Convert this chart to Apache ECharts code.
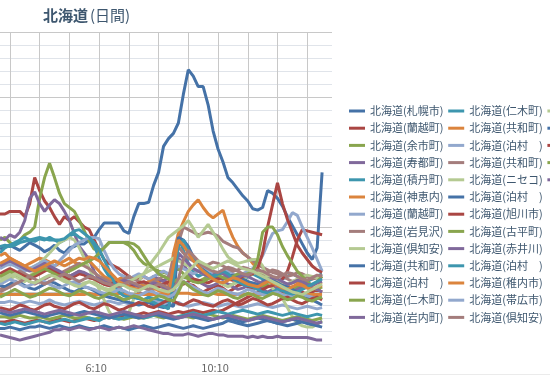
<!DOCTYPE html>
<html><head><meta charset="utf-8">
<script src="https://cdn.jsdelivr.net/npm/echarts@6/dist/echarts.min.js"></script>
<style>html,body{margin:0;padding:0;background:#fff}#c{width:550px;height:381px}</style>
</head><body><div id="c"></div>
<script>
const categories = ['2:50','3:00','3:10','3:20','3:30','3:40','3:50','4:00','4:10','4:20','4:30','4:40','4:50','5:00','5:10','5:20','5:30','5:40','5:50','6:00','6:10','6:20','6:30','6:40','6:50','7:00','7:10','7:20','7:30','7:40','7:50','8:00','8:10','8:20','8:30','8:40','8:50','9:00','9:10','9:20','9:30','9:40','9:50','10:00','10:10','10:20','10:30','10:40','10:50','11:00','11:10','11:20','11:30','11:40','11:50','12:00','12:10','12:20','12:30','12:40','12:50','13:00','13:10','13:20','13:30','13:40','13:50','14:00'];
const tickLabels = ['6:10','10:10'];
const names = ['北海道(札幌市)','北海道(蘭越町)','北海道(余市町)','北海道(寿都町)','北海道(積丹町)','北海道(神恵内)','北海道(蘭越町)','北海道(岩見沢)','北海道(倶知安)','北海道(共和町)','北海道(泊村　)','北海道(仁木町)','北海道(岩内町)',
'北海道(仁木町)','北海道(共和町)','北海道(泊村　)','北海道(共和町)','北海道(ニセコ)','北海道(泊村　)','北海道(旭川市)','北海道(古平町)','北海道(赤井川)','北海道(泊村　)','北海道(稚内市)','北海道(帯広市)','北海道(倶知安)',
'北海道(小樽市)','北海道(函館市)','北海道(釧路市)','北海道(室蘭市)','北海道(苫小牧)'];
const s01=[83,85,86,84,82,85,88,86,84,81,83,86,82,80,84,85,87,87,90,92,98,103,103,103,103,97,95,108,118,118,119,132,142,162,168,172,180,202,221,216,208,208,194,174,160,150,138,134,129,124,120,114,113,115,128,126,122,116,108,101,94,87,80,75,84,142];
const s02=[110,110,112,112,112,108,118,138,128,120,115,108,102,108,105,108,104,100,98,90,82,75,72,70,68,65,62,60,60,62,60,58,58,59,56,55,57,58,56,55,52,50,52,54,55,53,50,52,55,56,54,52,55,58,56,54,52,50,52,54,52,50,48,50,52,50];
const s03=[90,92,88,86,90,94,96,100,122,138,149,138,126,118,115,112,105,97,89,83,82,84,88,88,88,88,86,82,76,72,70,68,66,65,64,66,68,64,62,60,58,60,62,60,58,56,55,56,58,60,58,56,55,54,56,58,56,55,54,52,54,56,55,53,52,54];
const s04=[92,90,94,92,96,105,122,127,118,112,117,121,118,112,105,95,85,80,75,66,60,58,56,55,58,60,56,54,52,55,58,62,60,58,62,70,76,72,65,60,58,56,54,55,57,58,56,54,52,53,55,56,54,52,50,52,54,53,51,50,52,54,55,53,52,50];
const s05=[80,84,86,88,90,92,90,89,91,90,92,90,88,90,93,95,92,90,92,86,76,68,62,58,54,50,48,46,45,44,46,45,44,43,42,50,95,82,72,66,62,64,62,60,63,66,64,62,60,58,62,64,62,60,58,56,58,60,62,64,62,60,58,60,62,64];
const s06=[78,80,76,74,72,70,72,74,76,75,73,70,72,74,76,73,71,72,74,70,66,62,60,58,60,62,58,55,54,56,58,60,57,55,53,80,95,104,112,117,121,115,110,107,110,113,101,92,85,80,77,72,68,64,62,60,58,56,55,57,58,56,54,55,57,56];
const s07=[42,42,43,42,41,42,43,42,41,42,44,42,41,40,41,42,43,42,41,40,41,42,43,42,41,42,41,40,41,42,42,43,42,41,40,41,42,40,39,40,41,42,41,40,39,40,41,40,39,38,39,40,41,40,39,38,39,40,39,38,37,38,39,38,37,38];
const s08=[52,54,56,58,57,60,58,56,58,60,62,64,62,60,62,64,66,64,62,60,58,56,55,54,56,58,55,52,50,48,50,52,55,53,50,70,88,100,98,96,94,95,96,95,93,89,87,85,84,80,77,74,71,69,67,65,64,62,60,58,59,60,62,61,62,63];
const s09=[58,59,60,62,64,66,68,70,72,76,80,84,88,90,92,90,84,76,68,60,52,44,35,30,31,33,34,45,58,64,70,75,80,86,92,95,98,101,105,99,92,97,102,96,90,83,77,74,72,73,74,75,75,70,60,53,49,45,38,31,26,24,23,23,25,28];
const s10=[22,22,23,22,21,22,23,23,24,23,22,23,24,23,22,23,24,23,22,22,23,24,23,22,23,22,21,22,23,24,23,22,23,24,25,24,23,22,23,24,23,22,23,24,25,26,28,27,26,25,24,25,26,27,28,27,26,25,24,25,26,27,26,25,24,23];
const s11=[27,27,28,28,27,26,27,28,28,27,27,28,29,28,27,28,29,30,29,28,29,30,31,30,31,32,33,32,33,34,33,34,35,34,33,34,35,34,35,36,35,34,35,36,35,36,38,40,42,44,46,48,50,52,54,55,57,60,66,77,90,98,97,96,95,94];
const s12=[31,31,30,31,32,31,30,30,31,30,29,30,31,32,31,30,30,31,30,29,30,31,30,31,30,29,30,31,30,30,31,32,31,30,31,30,31,32,31,30,31,32,33,32,31,30,31,32,31,30,29,30,31,32,31,30,29,28,29,30,31,30,29,28,29,30];
const s13=[17,16,15,14,13,14,15,16,17,18,19,21,21,22,21,22,23,22,21,22,23,22,21,22,23,22,23,24,23,22,21,20,19,18,18,17,17,17,18,17,16,17,18,18,17,17,16,16,16,16,15,16,15,16,15,15,16,15,15,15,15,15,15,14,13,13];
const s14=[26,25,26,27,26,25,26,27,28,27,26,27,28,29,28,27,28,29,30,29,28,30,31,30,29,30,31,32,31,30,31,32,33,32,31,30,31,32,33,34,33,32,33,34,35,34,33,34,35,36,35,34,33,34,35,34,33,32,33,34,33,32,31,32,33,32];
const s15=[48,48,48,48,48,48,48,48,48,48,48,48,48,48,48,48,48,48,49,48,48,48,48,48,49,48,48,48,48,48,48,48,48,48,48,48,49,49,49,48,48,48,48,49,48,48,48,48,48,48,48,48,48,48,48,49,48,48,48,48,48,48,48,48,48,48];
const s16=[68,70,72,70,68,66,68,70,72,74,72,70,74,78,82,86,88,90,92,92,91,82,74,68,64,62,60,62,64,62,60,62,64,66,64,66,70,68,66,64,66,68,66,64,65,67,66,64,62,64,66,68,72,78,87,95,97,98,104,111,109,100,92,84,75,66];
const s17=[62,60,62,64,66,64,62,65,68,70,68,66,64,66,68,70,72,70,68,65,62,60,58,56,58,60,62,60,58,57,56,58,60,62,61,75,85,80,76,74,72,70,71,73,72,70,68,66,67,69,68,66,64,63,65,67,66,64,62,63,65,64,62,60,61,62];
const s18=[60,62,64,62,60,58,62,66,70,68,66,64,62,60,58,56,55,57,58,56,54,52,50,52,54,56,58,60,62,64,66,68,70,72,74,76,74,72,70,68,66,64,62,60,58,56,54,56,58,60,62,64,66,65,63,61,59,57,56,58,60,62,63,62,61,62];
const s19=[55,54,56,58,57,55,53,52,54,56,58,57,55,53,51,50,52,54,53,51,49,47,46,45,44,43,42,41,40,41,42,40,39,38,40,39,92,90,85,77,70,67,64,62,61,60,62,63,62,60,58,57,56,58,60,59,57,55,54,52,50,48,46,44,42,40];
const s20=[64,66,68,66,64,62,60,62,64,66,68,66,64,62,60,62,64,63,61,60,58,56,55,57,58,56,54,55,57,58,56,55,54,56,58,59,57,56,58,60,59,58,57,59,60,61,60,59,60,62,63,64,68,80,100,117,134,118,106,96,86,80,75,70,67,65];
const s21=[62,64,66,64,62,60,62,64,66,68,66,64,62,64,66,68,70,72,74,76,80,84,88,88,88,88,88,87,84,78,72,68,64,62,60,58,60,62,60,58,57,58,60,62,63,61,60,62,64,63,64,66,75,96,100,100,94,85,78,72,66,62,58,55,58,62];
const s22=[70,72,74,72,70,68,66,68,70,72,70,68,66,64,62,64,66,65,63,61,60,58,56,55,57,59,58,56,54,53,55,57,56,54,52,62,80,76,72,68,66,64,62,63,65,64,62,60,61,63,62,60,58,57,59,61,60,58,56,57,59,58,56,55,57,58];
const s23=[85,86,85,86,88,89,90,91,92,91,90,90,90,91,94,97,98,95,92,88,83,75,67,58,50,47,46,46,45,44,43,42,40,39,37,60,85,90,82,76,70,66,64,62,64,66,64,60,58,56,55,54,52,50,49,50,52,51,49,48,50,52,54,56,58,60];
const s24=[72,74,76,74,72,70,68,66,68,70,72,74,72,70,72,74,76,75,77,76,74,70,66,62,58,56,54,53,52,54,55,53,51,50,48,70,90,86,80,74,70,66,63,60,58,57,59,61,60,58,56,55,54,56,58,57,55,53,52,54,56,55,53,52,54,55];
const s25=[56,58,60,58,56,54,55,57,59,58,56,54,53,55,57,58,56,54,53,52,50,49,48,50,52,51,49,48,47,49,51,50,48,47,46,48,52,58,56,54,52,50,49,51,53,52,50,49,48,50,52,51,49,48,47,49,50,48,47,46,47,48,47,46,45,46];
const s26=[50,52,54,56,58,60,62,60,58,56,58,60,62,64,62,60,58,60,62,61,59,57,56,55,54,56,58,57,55,53,52,54,56,55,53,51,60,75,82,78,74,70,68,66,65,67,69,68,66,64,63,65,67,66,64,62,61,63,65,64,62,60,59,61,63,62];
const s27=[58,60,62,64,62,60,58,57,59,61,63,62,60,58,57,55,54,56,58,57,55,53,52,54,56,55,53,52,51,53,55,54,52,51,50,52,56,62,66,70,74,72,70,68,70,72,74,72,70,68,67,66,64,62,60,58,56,54,52,50,49,48,50,52,54,56];
const s28=[34,33,32,33,34,35,34,33,32,31,32,33,34,33,32,33,34,35,34,33,32,31,30,31,32,33,32,31,30,31,32,33,32,31,30,29,30,31,32,31,30,29,28,29,30,31,30,29,28,27,28,29,30,29,28,27,26,27,28,29,28,27,26,25,26,27];
const s29=[38,37,36,38,40,39,37,36,38,40,41,39,38,37,39,41,42,40,38,37,39,41,40,38,36,37,39,40,42,41,39,38,40,42,44,43,41,40,42,44,43,41,40,39,41,43,44,42,40,41,43,45,44,42,40,41,43,45,46,44,42,41,43,45,46,44];
const s30=[46,48,50,52,50,48,46,47,49,51,53,52,50,48,47,49,51,50,48,46,45,47,49,48,46,44,45,47,46,44,43,45,47,46,44,43,50,58,55,52,50,48,47,49,51,50,48,46,45,47,49,48,46,45,47,49,48,46,44,45,47,46,44,43,45,46];
const s31=[36,35,34,35,36,37,36,35,34,33,34,35,36,35,34,33,32,33,34,35,34,33,32,33,34,35,34,33,32,31,32,33,34,33,32,31,30,31,32,33,32,31,30,29,30,31,32,31,30,29,28,29,30,31,30,29,28,27,28,29,30,29,28,27,26,27];
const seriesValues=[s01,s02,s03,s04,s05,s06,s07,s08,s09,s10,s11,s12,s13,s14,s15,s16,s17,s18,s19,s20,s21,s22,s23,s24,s25,s26,s27,s28,s29,s30,s31];
const palette=['#4572A7','#AA4643','#89A54E','#80699B','#3D96AE','#DB843D','#92A8CD','#A47D7C','#B5CA92'];

const uniq = names.map((n,i)=>n+'|'+i);
const chart = echarts.init(document.getElementById('c'), null, {renderer:'canvas'});
const FONT = '"Noto Sans CJK JP","Noto Sans",sans-serif';
chart.setOption({
  animation:false,
  backgroundColor:'#fff',
  color:palette,
  textStyle:{fontFamily:FONT},
  title:{
    left:38, top:3,
    text:'{b|北海道}{n|(日間)}',
    textStyle:{rich:{
      b:{fontSize:15,fontWeight:'bold',color:'#3E576F',fontFamily:FONT},
      n:{fontSize:15,fontWeight:'normal',color:'#3E576F',fontFamily:FONT,padding:[0,0,0,2]}
    }}
  },
  legend:{
    orient:'vertical', left:349, top:104, height:225, padding:0,
    itemGap:3.2, itemWidth:16, itemHeight:3, icon:'rect',
    data:uniq,
    formatter:n=>n.split('|')[0],
    textStyle:{fontSize:11,color:'#3E576F',lineHeight:14,width:75,fontFamily:FONT}
  },
  grid:{left:-3, top:32, width:335, height:325, containLabel:false},
  xAxis:{
    type:'category', data:categories, boundaryGap:false,
    axisLine:{show:false}, axisTick:{show:false},
    axisLabel:{interval:(i,v)=>tickLabels.indexOf(v)>=0, color:'#666', fontSize:11, margin:5, padding:[0,6,0,0], fontFamily:FONT},
    splitLine:{show:true, interval:(i,v)=>/:10$/.test(v), lineStyle:{color:'#C8C8C8',width:1}}
  },
  yAxis:{
    type:'value', min:0, max:250, interval:50,
    axisLine:{show:false}, axisTick:{show:false}, axisLabel:{show:false},
    splitLine:{lineStyle:{color:'#C8C8C8'}},
    minorTick:{show:false, splitNumber:5},
    minorSplitLine:{show:true, lineStyle:{color:'#E0E4EA'}}
  },
  graphic:[{type:'line', shape:{x1:0,y1:374.5,x2:550,y2:374.5}, style:{stroke:'#EBEBEB',lineWidth:1}}],
  series: seriesValues.map((d,i)=>({
    name:uniq[i], type:'line', data:d, symbol:'none', showSymbol:false,
    lineStyle:{width:3}, emphasis:{disabled:true}
  }))
});
</script></body></html>
